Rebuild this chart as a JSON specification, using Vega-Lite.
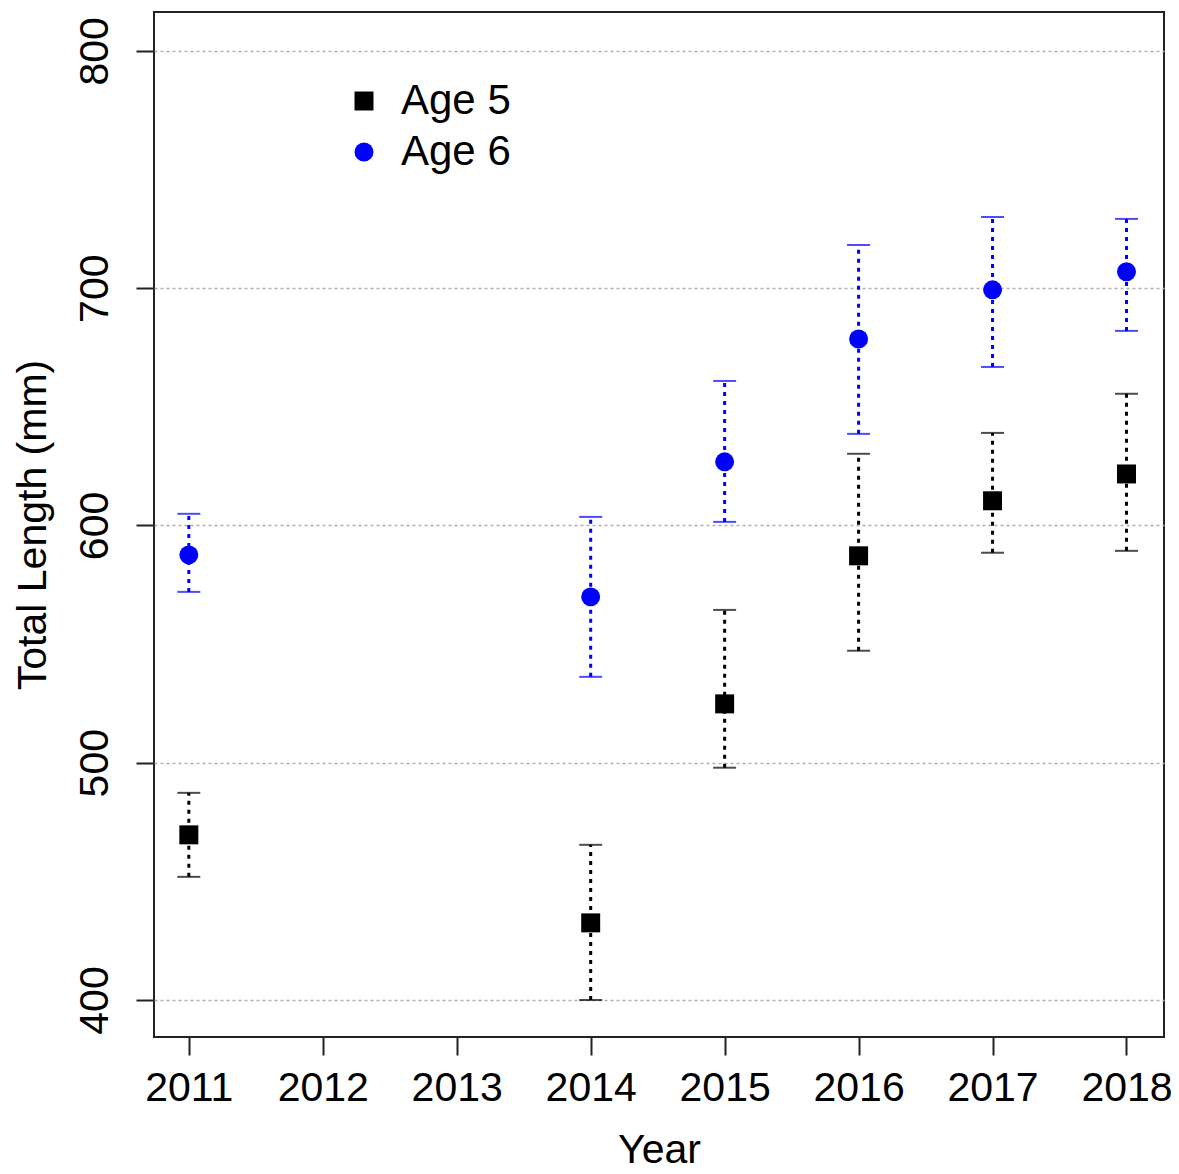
{
  "$schema": "https://vega.github.io/schema/vega-lite/v6.json",
  "autosize": "none",
  "width": 1010,
  "height": 1025,
  "padding": {"left": 154, "top": 12, "right": 15, "bottom": 137},
  "background": "white",
  "config": {
    "font": "Liberation Sans",
    "view": {"stroke": "#222222", "strokeWidth": 2},
    "axis": {
      "labelFont": "Liberation Sans",
      "titleFont": "Liberation Sans",
      "labelFontSize": 41,
      "titleFontSize": 41,
      "titleFontWeight": "normal",
      "labelColor": "black",
      "titleColor": "black",
      "tickColor": "#222222",
      "tickWidth": 2,
      "tickSize": 18,
      "domain": false
    }
  },
  "resolve": {"legend": {"color": "independent", "shape": "independent"}},
  "data": {
    "values": [
      {"year": 2011, "age": "Age 5", "mean": 469.6, "lo": 451.9, "hi": 487.3},
      {"year": 2014, "age": "Age 5", "mean": 432.5, "lo": 400.0, "hi": 465.4},
      {"year": 2015, "age": "Age 5", "mean": 524.8, "lo": 497.9, "hi": 564.4},
      {"year": 2016, "age": "Age 5", "mean": 587.2, "lo": 547.2, "hi": 630.2},
      {"year": 2017, "age": "Age 5", "mean": 610.4, "lo": 588.5, "hi": 639.0},
      {"year": 2018, "age": "Age 5", "mean": 621.7, "lo": 589.3, "hi": 655.5},
      {"year": 2011, "age": "Age 6", "mean": 587.6, "lo": 572.0, "hi": 604.9},
      {"year": 2014, "age": "Age 6", "mean": 569.9, "lo": 536.2, "hi": 603.6},
      {"year": 2015, "age": "Age 6", "mean": 626.8, "lo": 601.5, "hi": 660.9},
      {"year": 2016, "age": "Age 6", "mean": 678.6, "lo": 638.6, "hi": 718.2},
      {"year": 2017, "age": "Age 6", "mean": 699.3, "lo": 666.8, "hi": 730.0},
      {"year": 2018, "age": "Age 6", "mean": 706.9, "lo": 682.0, "hi": 729.2}
    ]
  },
  "encoding": {
    "x": {
      "field": "year", "type": "quantitative",
      "scale": {"domain": [2010.74, 2018.28], "nice": false, "zero": false},
      "axis": {
        "values": [2011, 2012, 2013, 2014, 2015, 2016, 2017, 2018],
        "format": "d", "grid": false, "title": "Year",
        "labelPadding": 13, "titlePadding": 22, "labelFlush": false
      }
    }
  },
  "layer": [
    {
      "mark": {"type": "rule", "strokeWidth": 3, "strokeDash": [4, 5]},
      "encoding": {
        "y": {
          "field": "lo", "type": "quantitative",
          "scale": {"domain": [384.4, 816.4], "nice": false, "zero": false},
          "axis": {
            "values": [400, 500, 600, 700, 800],
            "title": "Total Length (mm)",
            "grid": true, "gridColor": "#b0b0b0", "gridDash": [3, 3], "gridWidth": 1.5,
            "labelAngle": -90, "labelAlign": "center", "labelBaseline": "bottom",
            "labelPadding": 20, "titlePadding": 20
          }
        },
        "y2": {"field": "hi"},
        "color": {"field": "age", "type": "nominal", "scale": {"domain": ["Age 5", "Age 6"], "range": ["black", "#0000ff"]}, "legend": null}
      }
    },
    {
      "mark": {"type": "tick", "orient": "horizontal", "size": 23, "thickness": 2},
      "encoding": {
        "y": {"field": "lo", "type": "quantitative"},
        "color": {"field": "age", "type": "nominal", "legend": null}
      }
    },
    {
      "mark": {"type": "tick", "orient": "horizontal", "size": 23, "thickness": 2},
      "encoding": {
        "y": {"field": "hi", "type": "quantitative"},
        "color": {"field": "age", "type": "nominal", "legend": null}
      }
    },
    {
      "mark": {"type": "point", "filled": true, "opacity": 1, "size": 360},
      "encoding": {
        "y": {"field": "mean", "type": "quantitative"},
        "color": {
          "field": "age", "type": "nominal",
          "legend": {
            "title": null, "orient": "none", "legendX": 189, "legendY": 68,
            "labelFontSize": 42, "labelFont": "Liberation Sans", "labelColor": "black",
            "symbolSize": 360, "symbolStrokeWidth": 0, "rowPadding": 9, "labelOffset": 16,
            "symbolOpacity": 1
          }
        },
        "shape": {
          "field": "age", "type": "nominal",
          "scale": {"domain": ["Age 5", "Age 6"], "range": ["square", "circle"]},
          "legend": {
            "title": null, "orient": "none", "legendX": 189, "legendY": 68,
            "labelFontSize": 42, "labelFont": "Liberation Sans", "labelColor": "black",
            "symbolSize": 360, "symbolStrokeWidth": 0, "rowPadding": 9, "labelOffset": 16,
            "symbolOpacity": 1
          }
        }
      }
    }
  ]
}
